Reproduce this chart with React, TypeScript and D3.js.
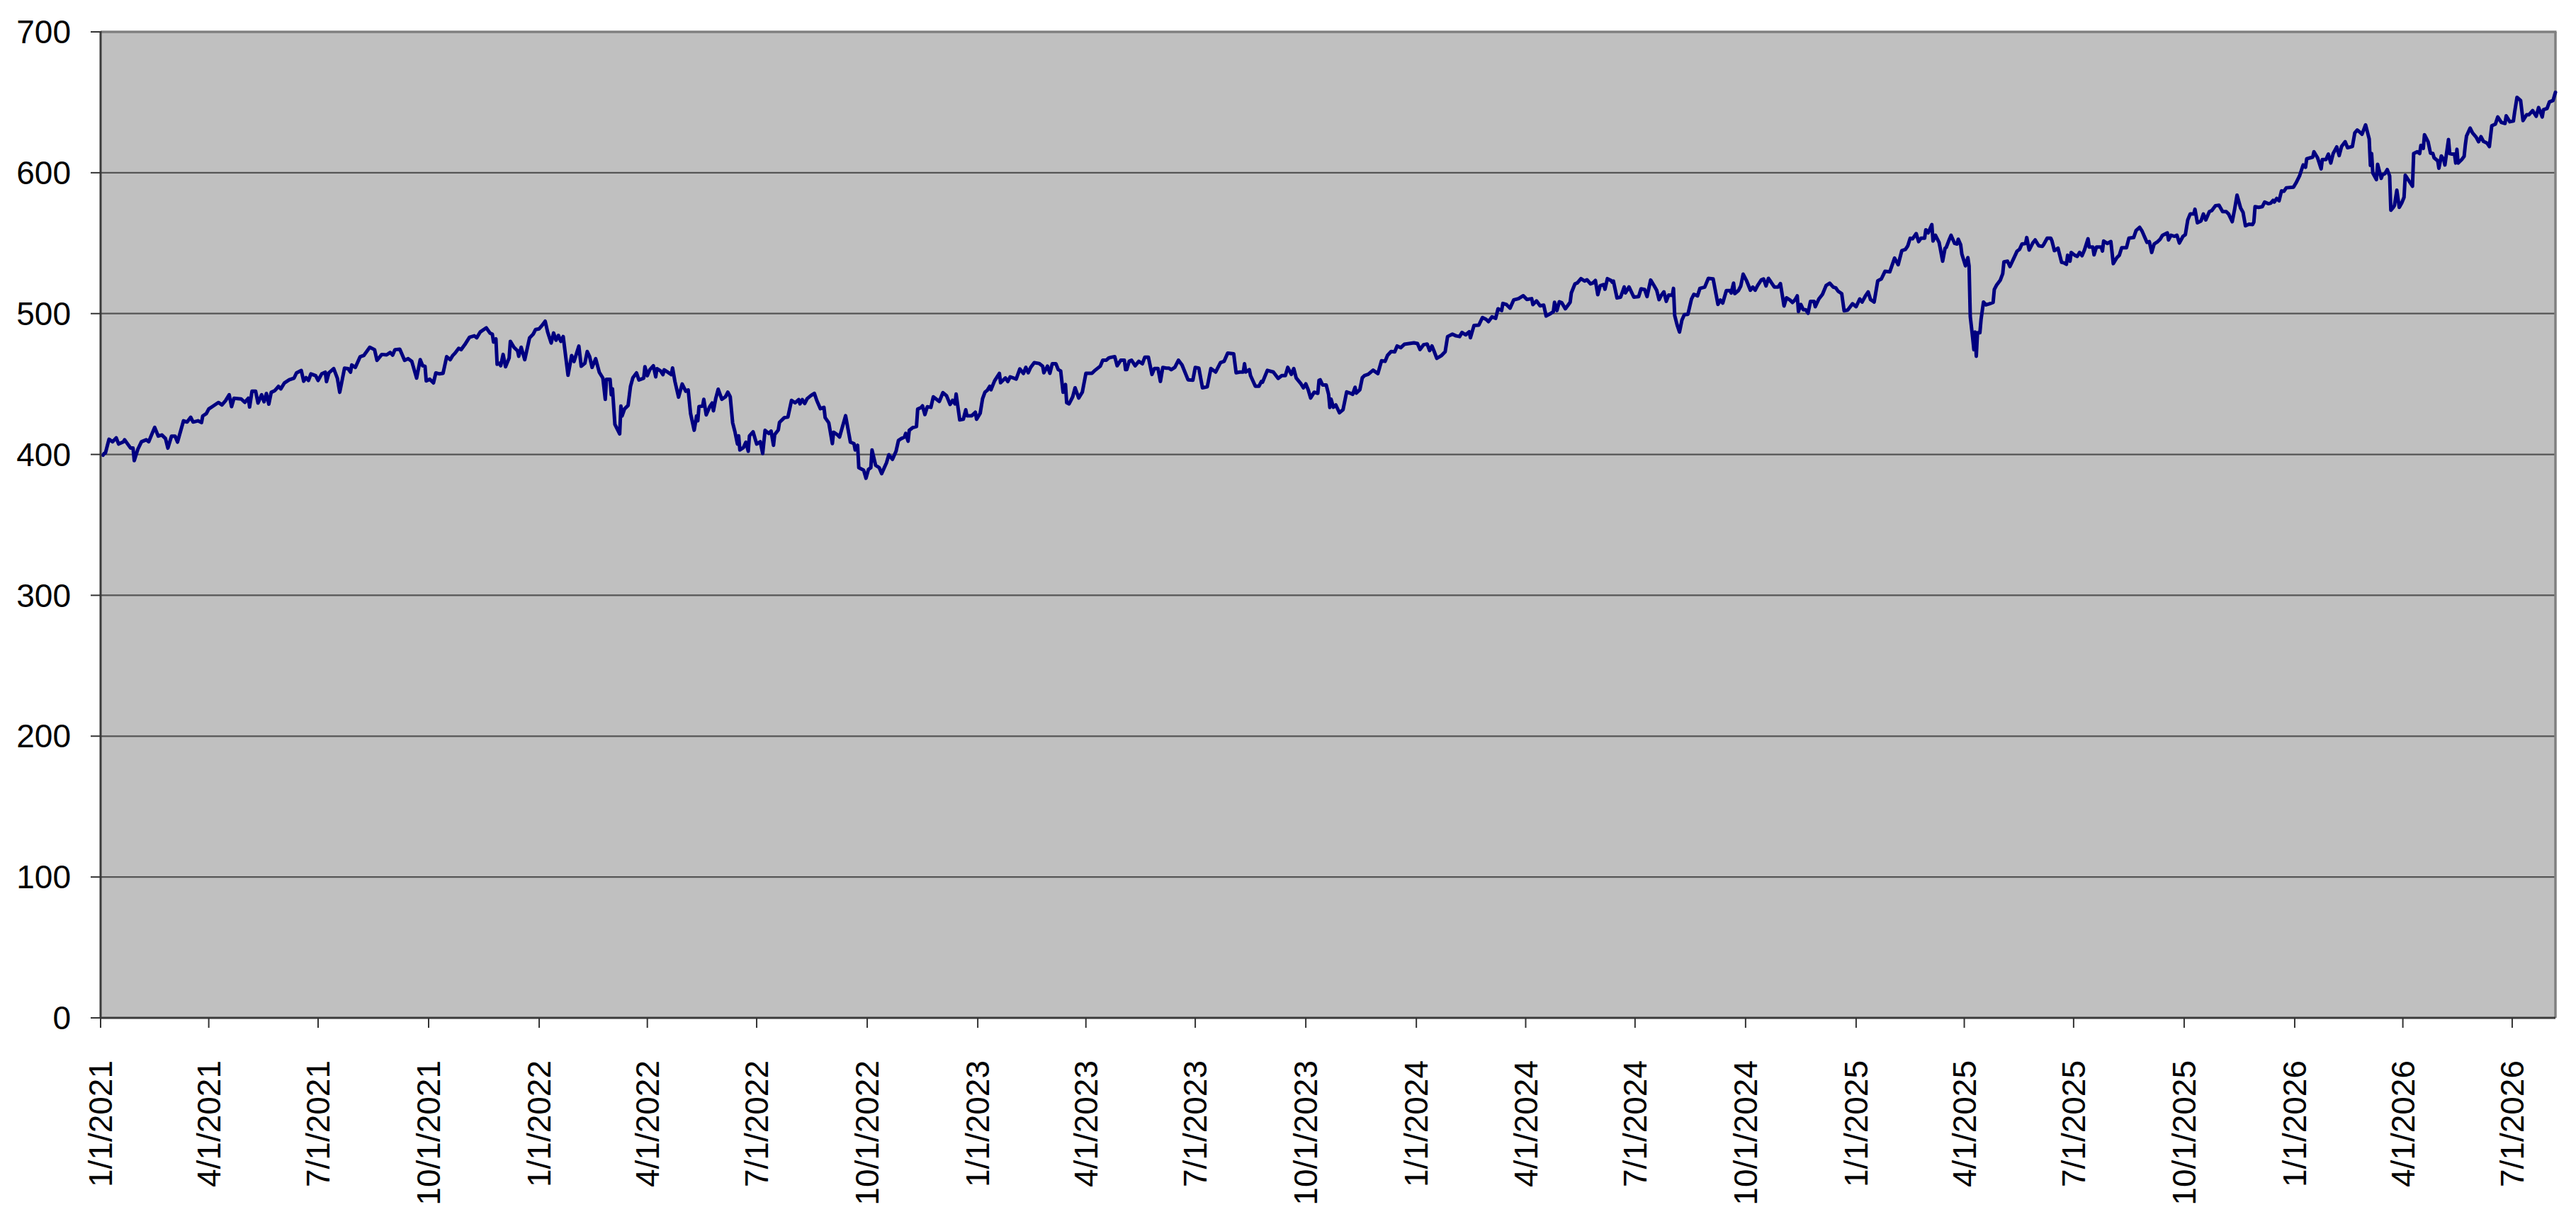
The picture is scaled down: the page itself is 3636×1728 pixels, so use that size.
import React from 'react';
import * as d3 from 'd3';

// Daily closes, x as days since 1/1/2021
const START = new Date(2021, 0, 1);

const DAY_OFFSET = [
  2, 3, 4, 7, 10, 13, 15, 19, 20, 22, 25, 27, 28, 31, 34, 38, 40, 45, 48, 51, 54, 56, 59, 62, 64, 69, 72, 75, 77, 81,
  84, 85, 88, 90, 93, 98, 101, 104, 107, 109, 111, 117, 120, 123, 124, 126, 129, 131, 134, 136, 138, 140, 142, 145, 148, 150, 153, 157, 161, 163,
  167, 169, 171, 173, 175, 179, 181, 184, 187, 188, 190, 194, 197, 199, 203, 206, 208, 209, 212, 216, 219, 224, 228, 230, 234, 238, 241, 243, 245, 249,
  253, 256, 259, 263, 266, 268, 270, 271, 274, 277, 279, 282, 285, 288, 291, 293, 295, 298, 300, 303, 307, 311, 313, 316, 321, 324, 326, 327, 329, 330,
  332, 333, 335, 337, 340, 341, 344, 347, 348, 350, 353, 357, 360, 362, 365, 367, 370, 372, 375, 377, 379, 381, 383, 385, 389, 392, 394, 398, 400, 403,
  405, 407, 409, 412, 415, 418, 420, 421, 424, 425, 426, 428, 432, 433, 434, 436, 439, 441, 443, 446, 448, 452, 453, 455, 457, 460, 462, 463, 466, 468,
  469, 472, 475, 476, 478, 481, 484, 487, 489, 491, 494, 496, 497, 498, 501, 502, 504, 507, 509, 510, 512, 514, 517, 520, 522, 524, 526, 528, 530, 531,
  532, 535, 537, 539, 540, 543, 546, 549, 551, 553, 556, 558, 560, 561, 564, 565, 569, 572, 575, 578, 581, 582, 584, 586, 588, 591, 594, 596, 599, 602,
  603, 606, 609, 610, 613, 615, 620, 624, 627, 628, 630, 631, 635, 637, 639, 641, 642, 645, 648, 650, 654, 656, 659, 662, 664, 666, 669, 670, 672, 673,
  676, 679, 680, 683, 684, 686, 688, 691, 693, 698, 701, 704, 707, 709, 711, 712, 715, 718, 720, 721, 725, 728, 729, 732, 734, 736, 738, 740, 741, 744,
  748, 749, 753, 755, 757, 762, 765, 768, 770, 772, 774, 777, 781, 784, 785, 788, 790, 792, 795, 797, 799, 801, 803, 804, 806, 809, 811, 814, 817, 820,
  825, 827, 832, 834, 837, 839, 841, 844, 846, 849, 852, 853, 854, 856, 858, 861, 864, 867, 869, 872, 875, 877, 880, 882, 884, 887, 889, 891, 894, 897,
  900, 905, 909, 911, 914, 917, 921, 924, 928, 932, 935, 938, 943, 945, 948, 951, 952, 953, 956, 957, 961, 964, 966, 967, 971, 976, 980, 983, 986, 988,
  991, 993, 995, 999, 1001, 1003, 1005, 1007, 1010, 1013, 1014, 1015, 1017, 1020, 1022, 1023, 1024, 1026, 1028, 1031, 1034, 1037, 1040, 1042, 1044, 1045, 1048, 1050, 1052, 1055,
  1059, 1063, 1066, 1069, 1071, 1074, 1077, 1079, 1082, 1085, 1089, 1093, 1096, 1098, 1101, 1104, 1106, 1108, 1110, 1112, 1116, 1119, 1121, 1125, 1128, 1131, 1133, 1136, 1139, 1140,
  1143, 1147, 1150, 1153, 1155, 1158, 1161, 1163, 1166, 1167, 1170, 1173, 1176, 1180, 1184, 1187, 1191, 1192, 1195, 1198, 1201, 1203, 1206, 1209, 1210, 1212, 1214, 1216, 1219, 1223,
  1224, 1227, 1229, 1232, 1235, 1237, 1240, 1242, 1244, 1246, 1248, 1251, 1252, 1254, 1257, 1258, 1259, 1262, 1265, 1268, 1269, 1272, 1276, 1280, 1282, 1285, 1287, 1290, 1293, 1295,
  1297, 1299, 1301, 1303, 1305, 1308, 1309, 1310, 1312, 1314, 1316, 1318, 1321, 1324, 1326, 1329, 1331, 1335, 1338, 1342, 1346, 1348, 1350, 1353, 1356, 1357, 1359, 1360, 1363, 1365,
  1367, 1370, 1373, 1375, 1377, 1379, 1382, 1384, 1386, 1388, 1390, 1393, 1396, 1398, 1401, 1403, 1406, 1408, 1410, 1412, 1413, 1415, 1417, 1419, 1421, 1423, 1426, 1427, 1430, 1433,
  1436, 1439, 1442, 1444, 1446, 1449, 1451, 1454, 1458, 1461, 1464, 1466, 1469, 1471, 1473, 1476, 1479, 1482, 1485, 1489, 1493, 1496, 1499, 1502, 1504, 1506, 1508, 1511, 1513, 1515,
  1518, 1519, 1521, 1524, 1525, 1527, 1530, 1531, 1533, 1535, 1536, 1538, 1540, 1543, 1545, 1546, 1548, 1549, 1552, 1554, 1555, 1556, 1558, 1559, 1560, 1561, 1562, 1564, 1565, 1567,
  1569, 1572, 1575, 1576, 1578, 1581, 1583, 1584, 1587, 1589, 1592, 1595, 1597, 1599, 1602, 1603, 1605, 1608, 1610, 1613, 1616, 1617, 1620, 1623, 1624, 1626, 1629, 1632, 1634, 1636,
  1637, 1639, 1640, 1643, 1645, 1647, 1649, 1651, 1654, 1655, 1658, 1659, 1661, 1665, 1666, 1667, 1670, 1673, 1675, 1678, 1680, 1682, 1686, 1688, 1692, 1694, 1697, 1699, 1701, 1703,
  1705, 1707, 1709, 1712, 1714, 1716, 1720, 1721, 1723, 1726, 1728, 1730, 1733, 1735, 1737, 1739, 1742, 1743, 1745, 1748, 1750, 1752, 1755, 1757, 1760, 1763, 1766, 1769, 1771, 1774,
  1776, 1778, 1781, 1783, 1785, 1788, 1791, 1792, 1793, 1796, 1799, 1801, 1804, 1806, 1808, 1809, 1811, 1813, 1815, 1817, 1819, 1825, 1827, 1830, 1833, 1835, 1836, 1839, 1841, 1842,
  1845, 1848, 1849, 1852, 1854, 1856, 1858, 1861, 1863, 1865, 1868, 1870, 1874, 1876, 1878, 1880, 1882, 1885, 1888, 1889, 1890, 1891, 1894, 1895, 1898, 1899, 1901, 1903, 1905, 1906,
  1908, 1909, 1911, 1913, 1915, 1917, 1918, 1921, 1924, 1925, 1928, 1930, 1931, 1933, 1934, 1937, 1939, 1941, 1942, 1945, 1946, 1948, 1950, 1951, 1954, 1955, 1957, 1959, 1960, 1961,
  1962, 1965, 1967, 1968, 1969, 1972, 1974, 1977, 1979, 1981, 1983, 1986, 1988, 1990, 1993, 1995, 1998, 2001, 2002, 2005, 2008, 2009, 2011, 2014, 2016, 2019, 2021, 2024, 2027, 2029,
  2032, 2033, 2036, 2038, 2041, 2043,
];

const CLOSE = [
  399.5, 400.7, 401, 410.8, 409, 411.8, 407.4, 409, 410.4, 408, 404.5, 404.5, 395.6, 403.7, 409, 410.4, 409, 419.2, 413, 413.8, 411.3, 404.5, 413, 413, 408.8, 423.9, 423, 426.4, 423, 423.9,
  422.6, 427.3, 429, 432.3, 434, 436.9, 435.2, 438.2, 442.4, 434, 439.9, 439.4, 437, 439.9, 433.7, 444.9, 444.9, 436.5, 442.4, 437.4, 443.3, 435.7, 444.1, 445.3, 448.3, 446.6, 450.8, 453, 454.2, 457.9,
  459.6, 452, 454.5, 452.5, 457.2, 455.9, 452.5, 457.2, 458.4, 451.7, 457.9, 460.9, 454.2, 444.1, 461.3, 460.9, 458.4, 463.5, 461.8, 469.4, 470.2, 476.1, 474.4, 466.8, 471, 470.7, 472.4, 470.5, 474.4, 474.7,
  466.8, 468, 466, 454.2, 467.3, 463, 462.6, 452.2, 453.4, 450.8, 457.9, 457.2, 457.6, 469.4, 467.3, 470.2, 471.9, 475.3, 474.4, 477.8, 483.2, 484.2, 482.8, 487, 489.9, 486.2, 485.4, 479.8, 482, 464,
  464.7, 463, 471, 462.3, 468.5, 480.3, 476.1, 473.6, 469.7, 476.1, 467.3, 482.8, 485.4, 488.7, 489.2, 491.2, 494.6, 487, 479.1, 486.2, 481.1, 484.5, 480.3, 483.7, 456.2, 470.2, 466, 476.9, 462.6, 464.7,
  473.1, 469.4, 461.8, 468, 458.4, 454.2, 439.1, 453.4, 453.4, 442.4, 446.6, 421.4, 414.6, 434.3, 427.3, 432.3, 434.8, 448.3, 454.5, 457.9, 452.9, 454.2, 462.3, 455.9, 460.1, 463, 455.1, 460.9, 459.3, 456.7,
  460.1, 458.4, 456.7, 461.4, 451.7, 440.7, 450, 444.9, 445.8, 429, 417.2, 427.3, 423.9, 434, 434.3, 439.1, 428.1, 434, 436.5, 431, 440, 446.3, 439.2, 440.9, 444.2, 440.9, 422.5, 415.8, 407.4, 413.2,
  403.2, 404.9, 408.7, 402.3, 413.2, 416.1, 407.4, 409, 400.7, 417.1, 414.9, 416.6, 406.5, 414.1, 417.4, 422.8, 426.1, 426.6, 438.4, 436.7, 438.9, 435.9, 438.9, 436.2, 439.6, 441.7, 443.4, 438.4, 432.5, 433.4,
  426.1, 422.5, 407.7, 415.8, 414.1, 412.4, 427.5, 408.7, 407.7, 403.2, 406.5, 390.6, 388.9, 383.1, 389.3, 390.6, 403.2, 392.3, 390.6, 386.4, 394, 399.8, 396.5, 402.3, 409.9, 411.1, 412.4, 414.9, 409.4, 417.1,
  419.1, 419.9, 432.2, 433.4, 434.5, 428.3, 433.9, 433.4, 440.9, 437.6, 443.9, 441.7, 435.5, 438.4, 435.9, 442.9, 424.5, 425, 431.7, 427.5, 427.5, 430, 425, 429.2, 439.6, 444.2, 445.6, 448.4, 445.9, 452.3,
  457.6, 450.9, 454.3, 451.8, 455.1, 453.5, 460.7, 457.5, 461.8, 458, 461.8, 465.2, 464.6, 462.7, 458, 462.7, 457.6, 464.4, 464.4, 460.2, 459.3, 444.2, 449.6, 436.7, 435.9, 440.9, 447.3, 440.1, 444.2, 457.6,
  457.6, 459.3, 462.7, 466.9, 466.9, 468.5, 469, 469.4, 463, 466.9, 466.9, 460.2, 460.2, 466.1, 466.9, 463, 466.1, 464.4, 469, 469, 456.8, 461, 461, 451.8, 461.8, 461.3, 461.3, 460.2, 461.8, 466.9,
  463.5, 453, 452.7, 461.8, 461.3, 447.3, 448, 461, 458.5, 465.2, 466.1, 471.9, 471.4, 458, 458.5, 458.5, 464.4, 458.5, 460.2, 456, 448.4, 448.4, 451.8, 451.3, 459.7, 458.5, 454, 456, 456, 461.8,
  456.8, 461, 454.3, 450.1, 447.3, 450.1, 445.9, 440.1, 444.2, 443.4, 452.6, 453, 449.3, 449.3, 442.6, 433.4, 439.3, 433.5, 435.1, 429.6, 431.8, 444.4, 443.5, 442.7, 447.7, 443.5, 446, 454.4, 456.1, 456.9,
  459.8, 457.4, 466.5, 466.1, 470.3, 473.1, 472.8, 477, 475.8, 478.2, 478.7, 479.2, 478.7, 474.5, 477.9, 478.4, 473.7, 477, 472.8, 468.2, 470.3, 473, 483.7, 485.4, 484.2, 483.7, 486.6, 484.9, 487.1, 482.9,
  491.6, 491.8, 497.2, 496, 494.3, 497.7, 496.6, 503.4, 502.2, 507.2, 506.4, 503.9, 509.7, 510.6, 512.7, 510, 510.6, 506.4, 509, 505.5, 506, 498.3, 499.7, 501.3, 508, 502.2, 508.4, 507.7, 503.4, 508,
  514.7, 521.1, 521.8, 524.8, 523.1, 524, 521.1, 521.8, 523.5, 513.4, 519.8, 520.6, 517.3, 524.8, 523.5, 522.3, 523.1, 511.1, 511.7, 518.9, 514.7, 518.9, 511.7, 512, 517.6, 517.1, 512.1, 523.8, 519.6, 516.6,
  509.9, 513.2, 515.4, 508.7, 513.2, 512.9, 517.9, 498.7, 492, 486.9, 495.3, 499.2, 499.5, 510.4, 513.7, 512.6, 517.9, 518.8, 525, 524.6, 506.5, 509.6, 507.5, 516.3, 516.3, 514.6, 521.6, 514.2, 516.3, 519.6,
  528, 523, 516.6, 518.8, 516.6, 519.9, 523.8, 524.6, 519.6, 525, 522.6, 518.8, 518.8, 521.3, 505.4, 511.2, 509.6, 507.9, 509.6, 512.6, 501.5, 506.5, 502.8, 502.8, 500.3, 508.7, 508.7, 504.9, 510.4, 513.7,
  519.9, 521.6, 518.8, 518.3, 515.9, 514.2, 502, 502.5, 507, 504.9, 510.4, 508.2, 512.9, 515.4, 509.9, 508.2, 523.3, 524.6, 530, 529.6, 539.4, 534.7, 544.7, 545.5, 548.1, 553.5, 553.1, 556.8, 551.1, 553.5,
  553.5, 559.5, 557.3, 563.2, 551.5, 555.6, 550.6, 546.4, 537.2, 546.4, 547, 551.5, 555.6, 549.8, 549.4, 552.8, 548.9, 542.2, 533.9, 539.7, 533.9, 497.8, 482.7, 474.4, 486.9, 469.7, 486.4, 486.4, 496.1, 508.2,
  506.2, 507, 507.9, 517.1, 520.4, 523.8, 528.3, 536.7, 537.2, 533.4, 538.9, 544.4, 545.6, 549.4, 549.8, 554, 545.1, 550.1, 552.3, 548.1, 547.7, 548.9, 553.5, 553.5, 551.5, 544.7, 546.4, 536.4, 536, 535,
  541.4, 537.2, 543.4, 541.4, 540.6, 543.4, 541.1, 545.1, 553.1, 547.2, 547.2, 541.7, 547.2, 547.2, 544.4, 551.5, 549.8, 551.1, 535.5, 539.7, 541.4, 546.8, 546.8, 553.5, 554, 559, 561.2, 558.5, 554.5, 550.6,
  551.1, 543.4, 549.4, 551.1, 552.8, 555.6, 557.3, 552.3, 555.6, 554.9, 555.6, 550.1, 554.8, 556.1, 566.5, 570.7, 570.7, 574.1, 564.5, 565.7, 570.7, 566.5, 572.4, 573.2, 576.6, 576.9, 572.4, 572.4, 570.7, 565.2,
  574.1, 584.1, 574.9, 571.9, 562.3, 563.5, 563.2, 565, 575.9, 575.4, 575.9, 579.2, 578, 578.4, 580.4, 579.2, 581.7, 580.1, 587.1, 586.8, 589.3, 589.8, 592.6, 597.7, 605.5, 603.9, 609.9, 610.6, 611.1, 614.9,
  610.6, 602.7, 609.4, 609.4, 613.2, 606.9, 613.6, 618.3, 612.2, 618.6, 622, 617.8, 618.6, 628.3, 630.3, 629, 627.3, 634, 624, 605.2, 613.6, 599.8, 595.1, 606, 596, 598.5, 599.3, 602.2, 597.7, 573.4,
  575.4, 576.7, 587.6, 575.4, 578.4, 582.6, 598.2, 594.3, 590.4, 613.6, 614.9, 613.6, 619.4, 617.3, 627, 622, 613.9, 613.6, 610.6, 608.5, 603.2, 611.9, 609.4, 605.5, 623.6, 613.6, 613.2, 613.2, 606.9, 616.6,
  606.9, 609.4, 611.6, 619.9, 626.1, 631.7, 628.3, 625.3, 622, 625.6, 622.3, 621.1, 618.6, 633.4, 634.5, 639.6, 635.7, 635, 640.4, 636.2, 636.7, 642.9, 653.5, 651.3, 637, 641.2, 641.2, 644.1, 640.1, 646.3,
  639.6, 644.7, 645.6, 650.3, 651.3, 657.1,
];

const Y_TICKS = [0, 100, 200, 300, 400, 500, 600, 700];

const X_TICK_LABELS = [
  '1/1/2021', '4/1/2021', '7/1/2021', '10/1/2021',
  '1/1/2022', '4/1/2022', '7/1/2022', '10/1/2022',
  '1/1/2023', '4/1/2023', '7/1/2023', '10/1/2023',
  '1/1/2024', '4/1/2024', '7/1/2024', '10/1/2024',
  '1/1/2025', '4/1/2025', '7/1/2025', '10/1/2025',
  '1/1/2026', '4/1/2026', '7/1/2026',
];

const W = 3636;
const H = 1728;
const margin = { top: 45, right: 29, bottom: 291, left: 142 };
const FONT = '"Liberation Sans", Arial, Helvetica, sans-serif';

const App: React.FC = () => {
  const parse = d3.timeParse('%m/%d/%Y');
  const points = DAY_OFFSET.map((d, i) => ({ date: d3.timeDay.offset(START, d), value: CLOSE[i] }));

  const x = d3.scaleTime()
    .domain([START, d3.timeDay.offset(START, DAY_OFFSET[DAY_OFFSET.length - 1])])
    .range([margin.left, W - margin.right]);

  const y = d3.scaleLinear()
    .domain([0, 700])
    .range([H - margin.bottom, margin.top]);

  const line = d3.line<{ date: Date; value: number }>()
    .x(d => x(d.date))
    .y(d => y(d.value));

  const x0 = margin.left;
  const x1 = W - margin.right;
  const yTop = margin.top;
  const yBot = H - margin.bottom;

  return (
    <svg width={W} height={H} style={{ position: 'absolute', left: 0, top: 0, background: '#fff' }}>
      {/* plot area */}
      <rect x={x0} y={yTop} width={x1 - x0} height={yBot - yTop} fill="#C0C0C0" />

      {/* gridlines */}
      {Y_TICKS.filter(t => t > 0 && t < 700).map(t => (
        <line key={t} x1={x0} x2={x1} y1={y(t)} y2={y(t)} stroke="#555" strokeWidth={2.3} />
      ))}

      {/* plot border top / right */}
      <line x1={x0} x2={x1 + 1.5} y1={yTop} y2={yTop} stroke="#808080" strokeWidth={3.5} />
      <line x1={x1} x2={x1} y1={yTop} y2={yBot} stroke="#808080" strokeWidth={3.5} />

      {/* series */}
      <path d={line(points) || ''} fill="none" stroke="#000080" strokeWidth={5} strokeLinejoin="round" strokeLinecap="round" />

      {/* axes */}
      <line x1={x0} x2={x0} y1={yTop - 1} y2={yBot} stroke="#3a3a3a" strokeWidth={3} />
      <line x1={x0} x2={x1} y1={yBot} y2={yBot} stroke="#3a3a3a" strokeWidth={3} />

      {Y_TICKS.map(t => (
        <g key={t}>
          <line x1={x0 - 14} x2={x0} y1={y(t)} y2={y(t)} stroke="#333" strokeWidth={2} />
          <text x={100} y={y(t)} dy="0.35em" textAnchor="end" fontFamily={FONT} fontSize={46} fill="#000">
            {t}
          </text>
        </g>
      ))}

      {X_TICK_LABELS.map(lbl => {
        const px = x(parse(lbl) as Date);
        return (
          <g key={lbl}>
            <line x1={px} x2={px} y1={yBot} y2={yBot + 14} stroke="#333" strokeWidth={2} />
            <text
              transform={`translate(${px},${yBot + 60}) rotate(-90)`}
              dy="0.35em"
              textAnchor="end"
              fontFamily={FONT}
              fontSize={46}
              fill="#000"
            >
              {lbl}
            </text>
          </g>
        );
      })}
    </svg>
  );
};

export default App;
